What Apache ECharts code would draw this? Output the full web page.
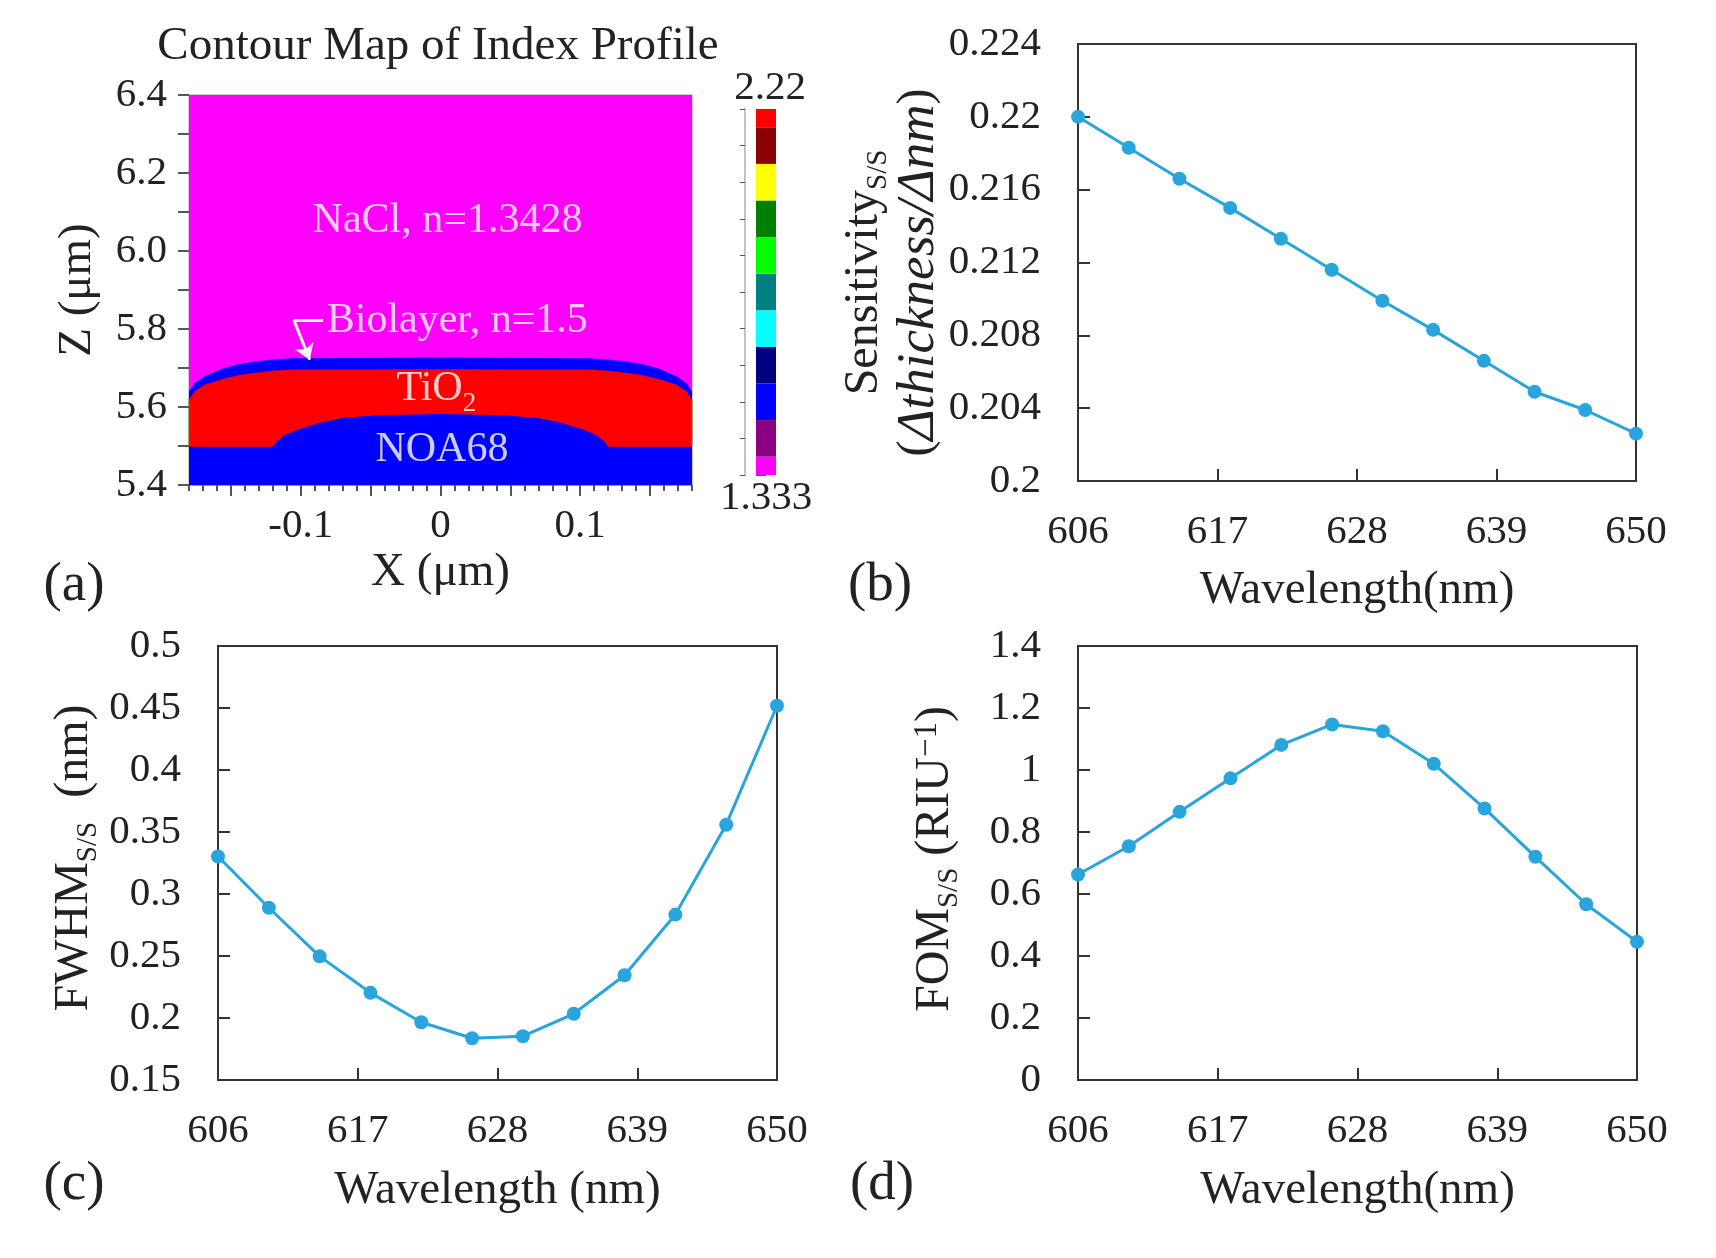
<!DOCTYPE html>
<html>
<head>
  <meta charset="utf-8">
  <style>html, body { margin: 0; height: 100%; background: #fff; }</style>
</head>
<body>
  <div id="container" style="width: 1716px; height: 1258px"></div>
  <script src="https://cdn.jsdelivr.net/npm/echarts@6/dist/echarts.min.js"></script>
  <script>
    // panel (a) material profiles, [x um, z um]
    var nacl = [[-0.18, 6.4], [0.18, 6.4]];
    var biolayer = [[-0.18, 5.64], [-0.176, 5.661], [-0.169, 5.678], [-0.156, 5.699], [-0.144, 5.71], [-0.132, 5.717], [-0.12, 5.722], [-0.107, 5.725], [0, 5.727],
      [0.107, 5.725], [0.12, 5.722], [0.132, 5.717], [0.144, 5.71], [0.156, 5.699], [0.169, 5.678], [0.176, 5.661], [0.18, 5.64]];
    var tio2 = [[-0.18, 5.619], [-0.176, 5.64], [-0.169, 5.657], [-0.156, 5.672], [-0.144, 5.682], [-0.132, 5.688], [-0.12, 5.693], [-0.107, 5.696], [0, 5.697],
      [0.107, 5.696], [0.12, 5.693], [0.132, 5.688], [0.144, 5.682], [0.156, 5.672], [0.169, 5.657], [0.176, 5.64], [0.18, 5.619]];
    var noa68 = [[-0.18, 5.498], [-0.12, 5.498], [-0.117, 5.512], [-0.112, 5.527], [-0.102, 5.542], [-0.087, 5.559], [-0.07, 5.572], [-0.046, 5.579], [0, 5.582],
      [0.046, 5.579], [0.07, 5.572], [0.087, 5.559], [0.102, 5.542], [0.112, 5.527], [0.117, 5.512], [0.12, 5.498], [0.18, 5.498]];
    var edgeLeft = [[-0.18, 5.5], [-0.18, 5.62]];
    var edgeRight = [[0.18, 5.5], [0.18, 5.62]];
    var xMajor = [-0.15, -0.1, -0.05, 0, 0.05, 0.1, 0.15];
    var xMinor = [-0.18, -0.17, -0.16, -0.15, -0.14, -0.13, -0.12, -0.11, -0.1, -0.09, -0.08, -0.07, -0.06, -0.05, -0.04, -0.03, -0.02, -0.01, 0,
      0.01, 0.02, 0.03, 0.04, 0.05, 0.06, 0.07, 0.08, 0.09, 0.1, 0.11, 0.12, 0.13, 0.14, 0.15, 0.16, 0.17, 0.18];
    var xLabels = [-0.1, 0, 0.1];
    var zMajor = [5.4, 5.5, 5.6, 5.7, 5.8, 5.9, 6.0, 6.1, 6.2, 6.3, 6.4];
    var zMinor = [5.45, 5.55, 5.65, 5.75, 5.85, 5.95, 6.05, 6.15, 6.25, 6.35];
    var zLabels = [5.4, 5.6, 5.8, 6.0, 6.2, 6.4];
    var notes = [
      { name: 'NaCl, n=1.3428', value: [0.005, 6.076] },
      { name: 'Biolayer, n=1.5', value: [0.012, 5.82] },
      { name: 'TiO{sub|2}', value: [-0.003, 5.647] },
      { name: 'NOA68', value: [0.001, 5.489] }
    ];

    // colour bar of panel (a)
    var barEdges = [1.333, 1.3774, 1.4661, 1.5548, 1.6435, 1.7322, 1.8209, 1.9096, 1.9983, 2.087, 2.1757, 2.22];
    var barColors = ['#ff00ff', '#8b0080', '#0000ff', '#000080', '#00ffff', '#008080', '#00ff00', '#007f00', '#ffff00', '#8b0000', '#ff0000'];
    var barTicks = [1.333, 1.4217, 1.5104, 1.5991, 1.6878, 1.7765, 1.8652, 1.9539, 2.0426, 2.1313, 2.22];
    var barTicksLong = [1.333, 1.7765, 2.22];

    // panels (b), (c), (d)
    var wavelength = [606, 610, 614, 618, 622, 626, 630, 634, 638, 642, 646, 650];
    var wavelengthTicks = [606, 617, 628, 639, 650];
    var sensitivity = [0.22, 0.2183, 0.2166, 0.215, 0.2133, 0.2116, 0.2099, 0.2083, 0.2066, 0.2049, 0.2039, 0.2026];
    var fwhm = [0.3303, 0.2889, 0.2497, 0.2203, 0.1966, 0.1837, 0.1853, 0.2034, 0.2345, 0.2834, 0.3559, 0.4518];
    var fom = [0.663, 0.754, 0.865, 0.973, 1.081, 1.147, 1.125, 1.02, 0.876, 0.72, 0.567, 0.446];

    var serif = '"Liberation Serif", "Times New Roman", serif';
    var ink = '#222';
    var tickSize = 41;
    var lineBlue = '#29a5dd';

    function pairs(ys) {
      return wavelength.map(function (w, i) { return [w, ys[i]]; });
    }

    var nameRich = {
      m: { fontFamily: serif, fontSize: 48, lineHeight: 47, verticalAlign: 'top', color: ink },
      big: { fontFamily: serif, fontSize: 48, lineHeight: 47, verticalAlign: 'top', color: ink },
      sub: { fontFamily: serif, fontSize: 29, lineHeight: 53, verticalAlign: 'bottom', color: ink },
      sup: { fontFamily: serif, fontSize: 33, lineHeight: 30, verticalAlign: 'top', color: ink },
      it: { fontFamily: serif, fontStyle: 'italic', fontSize: 53, lineHeight: 37, verticalAlign: 'top', color: ink }
    };

    function wavelengthAxis(gridIndex, name, gap) {
      return {
        type: 'value', gridIndex: gridIndex, min: 606, max: 650,
        name: name, nameLocation: 'middle', nameGap: gap, nameMoveOverlap: false,
        nameTextStyle: { fontFamily: serif, fontSize: 47, color: ink },
        axisLine: { onZero: false, lineStyle: { color: '#333', width: 2 } },
        axisTick: { inside: true, length: 12, customValues: wavelengthTicks, lineStyle: { color: '#333', width: 2 } },
        axisLabel: { margin: 31, customValues: wavelengthTicks, fontFamily: serif, fontSize: tickSize, color: ink, hideOverlap: false },
        splitLine: { show: false }
      };
    }

    function valueAxis(gridIndex, min, max, interval, name, gap, padding) {
      return {
        type: 'value', gridIndex: gridIndex, min: min, max: max, interval: interval,
        name: name, nameLocation: 'middle', nameRotate: 90, nameGap: gap, nameMoveOverlap: false,
        nameTextStyle: { rich: nameRich, padding: padding, lineHeight: 49, align: 'center' },
        axisLine: { onZero: false, lineStyle: { color: '#333', width: 2 } },
        axisTick: { inside: true, length: 12, lineStyle: { color: '#333', width: 2 } },
        axisLabel: { margin: 37, fontFamily: serif, fontSize: tickSize, color: ink, showMinLabel: true, showMaxLabel: true },
        splitLine: { show: false }
      };
    }

    function curve(gridIndex, ys) {
      return {
        type: 'line', xAxisIndex: gridIndex, yAxisIndex: gridIndex, data: pairs(ys),
        symbol: 'circle', symbolSize: 14, clip: false,
        lineStyle: { color: lineBlue, width: 3 }, itemStyle: { color: lineBlue }
      };
    }

    function layer(data, color) {
      return {
        type: 'line', xAxisIndex: 0, yAxisIndex: 0, data: data, showSymbol: false, symbol: 'none',
        lineStyle: { width: 0 }, areaStyle: { color: color, opacity: 1, origin: 'start' }
      };
    }

    function edge(data) {
      return {
        type: 'line', xAxisIndex: 0, yAxisIndex: 0, data: data, showSymbol: false, symbol: 'none',
        lineStyle: { color: '#6b7a20', width: 1 }
      };
    }

    function note(text, left, top, size, align) {
      return { text: text, left: left, top: top, textAlign: align || 'center', textStyle: { fontFamily: serif, fontSize: size, fontWeight: 'normal', color: ink } };
    }

    var option = {
      animation: false,
      backgroundColor: '#fff',
      title: [
        note('Contour Map of Index Profile', 433, 18, 47),
        note('2.22', 765, 63, tickSize),
        note('1.333', 761, 473, tickSize),
        note('(a)', 69, 553, 55),
        note('(b)', 875, 553, 55),
        note('(c)', 69, 1152, 55),
        note('(d)', 877, 1152, 55)
      ],
      grid: [
        { left: 189, top: 95, width: 503, height: 390, show: true, borderColor: '#999', borderWidth: 1, backgroundColor: 'transparent' },
        { left: 756, top: 109, width: 20, height: 366 },
        { left: 1078, top: 44, width: 558, height: 437, show: true, borderColor: '#333', borderWidth: 2 },
        { left: 218, top: 646, width: 559, height: 434, show: true, borderColor: '#333', borderWidth: 2 },
        { left: 1078, top: 646, width: 559, height: 434, show: true, borderColor: '#333', borderWidth: 2 }
      ],
      xAxis: [
        {
          type: 'value', gridIndex: 0, min: -0.18, max: 0.18,
          name: 'X (μm)', nameLocation: 'middle', nameGap: 64, nameMoveOverlap: false,
          nameTextStyle: { fontFamily: serif, fontSize: 47, color: ink },
          axisLine: { onZero: false, lineStyle: { color: '#999' } },
          axisTick: { length: 11, customValues: xMajor, lineStyle: { color: '#555', width: 2 } },
          axisLabel: { margin: 21, customValues: xLabels, fontFamily: serif, fontSize: tickSize, color: ink, hideOverlap: false },
          splitLine: { show: false }
        },
        { type: 'value', gridIndex: 1, min: 0, max: 1, show: false },
        wavelengthAxis(2, 'Wavelength(nm)', 86),
        wavelengthAxis(3, 'Wavelength (nm)', 87),
        wavelengthAxis(4, 'Wavelength(nm)', 87),
        // minor ticks of panel (a)
        {
          type: 'value', gridIndex: 0, min: -0.18, max: 0.18, position: 'bottom',
          axisLine: { show: false },
          axisTick: { length: 6, customValues: xMinor, lineStyle: { color: '#555', width: 2 } },
          axisLabel: { show: false }, splitLine: { show: false }
        }
      ],
      yAxis: [
        {
          type: 'value', gridIndex: 0, min: 5.4, max: 6.4,
          name: 'Z (μm)', nameLocation: 'middle', nameRotate: 90, nameGap: 88, nameMoveOverlap: false,
          nameTextStyle: { fontFamily: serif, fontSize: 47, color: ink },
          axisLine: { onZero: false, lineStyle: { color: '#999' } },
          axisTick: { length: 11, customValues: zMajor, lineStyle: { color: '#555', width: 2 } },
          axisLabel: {
            margin: 22, customValues: zLabels, fontFamily: serif, fontSize: tickSize, color: ink, hideOverlap: false,
            formatter: function (v) { return v.toFixed(1); }
          },
          splitLine: { show: false }
        },
        {
          type: 'value', gridIndex: 1, min: 1.333, max: 2.22, offset: 11,
          axisLine: { onZero: false, lineStyle: { color: '#c4c4c4', width: 2 } },
          axisTick: { length: 5, customValues: barTicks, lineStyle: { color: '#555', width: 1 } },
          axisLabel: { show: false }, splitLine: { show: false }
        },
        valueAxis(2, 0.2, 0.224, 0.004, '{big|Sensitivity}{sub|S/S}\n{m|(}{it|Δthickness/Δnm}{m|)}', 138, [0, 20, 0, 0]),
        valueAxis(3, 0.15, 0.5, 0.05, '{m|FWHM}{sub|S/S}{m|  (nm)}', 115, [0, 0, 0, 10]),
        valueAxis(4, 0, 1.4, 0.2, '{m|FOM}{sub|S/S}{m| (RIU}{sup|−1}{m|)}', 114, [0, 0, 0, 8]),
        {
          type: 'value', gridIndex: 0, min: 5.4, max: 6.4, position: 'left',
          axisLine: { show: false },
          axisTick: { length: 6, customValues: zMinor, lineStyle: { color: '#555', width: 2 } },
          axisLabel: { show: false }, splitLine: { show: false }
        },
        {
          type: 'value', gridIndex: 1, min: 1.333, max: 2.22, offset: 11,
          axisLine: { show: false },
          axisTick: { length: 10, customValues: barTicksLong, lineStyle: { color: '#555', width: 1 } },
          axisLabel: { show: false }, splitLine: { show: false }
        }
      ],
      series: [
        layer(nacl, '#ff00ff'),
        layer(biolayer, '#0000ff'),
        layer(tio2, '#ff0000'),
        layer(noa68, '#0000ff'),
        edge(edgeLeft),
        edge(edgeRight),
        {
          type: 'scatter', xAxisIndex: 0, yAxisIndex: 0, symbolSize: 1, data: notes, z: 5,
          itemStyle: { color: 'transparent' },
          label: {
            show: true, position: 'inside', color: '#fff', fontFamily: serif, fontSize: 42,
            formatter: function (p) { return p.name; },
            rich: { sub: { color: '#fff', fontFamily: serif, fontSize: 27, lineHeight: 58, verticalAlign: 'bottom' } }
          },
          // arrow from the biolayer label to the layer
          markLine: {
            silent: true, symbol: 'none', animation: false,
            lineStyle: { color: '#fff', width: 3, type: 'solid' }, label: { show: false },
            data: [
              [{ coord: [-0.084, 5.823] }, { coord: [-0.105, 5.823] }],
              [{ coord: [-0.105, 5.823], symbol: 'none' }, { coord: [-0.0936, 5.721], symbol: 'arrow', symbolSize: 15 }]
            ]
          }
        },
        {
          type: 'custom', xAxisIndex: 1, yAxisIndex: 1,
          data: barEdges.slice(0, -1).map(function (lo, i) { return [lo, barEdges[i + 1], i]; }),
          encode: { y: [0, 1] },
          renderItem: function (params, api) {
            var low = api.coord([0, api.value(0)]);
            var high = api.coord([1, api.value(1)]);
            return {
              type: 'rect',
              shape: { x: low[0], y: high[1], width: high[0] - low[0], height: low[1] - high[1] },
              style: { fill: barColors[api.value(2)] }
            };
          }
        },
        curve(2, sensitivity),
        curve(3, fwhm),
        curve(4, fom)
      ]
    };

    var myChart = echarts.init(document.getElementById('container'), null, { renderer: 'canvas' });
    myChart.setOption(option);
  </script>
</body>
</html>
